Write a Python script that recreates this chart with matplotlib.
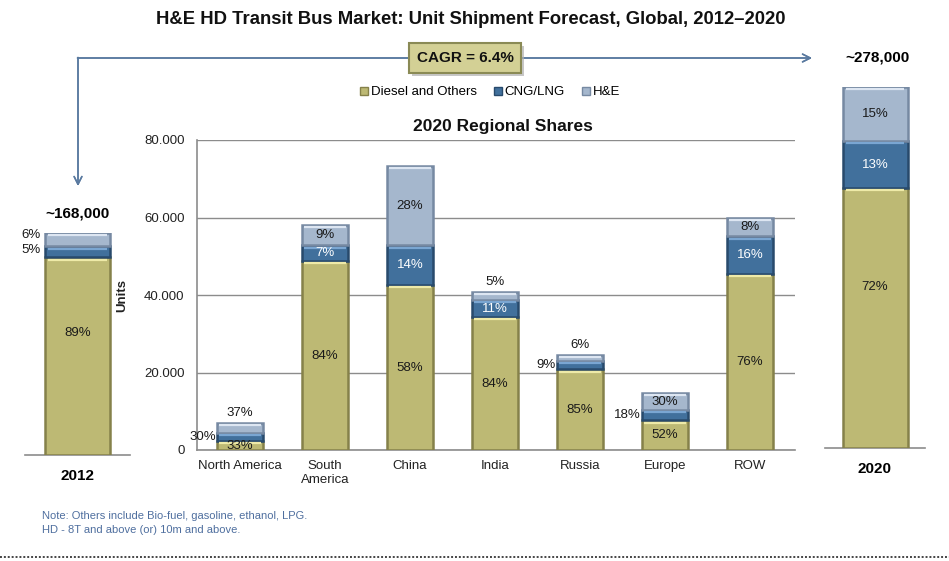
import numpy as np
import matplotlib
matplotlib.use("Agg")
import matplotlib.pyplot as plt
from matplotlib.patches import Rectangle
from matplotlib.lines import Line2D
from matplotlib.ticker import FuncFormatter, FixedLocator
import matplotlib.transforms as mtransforms

plt.rcParams['font.family'] = ['Liberation Sans', 'DejaVu Sans']

# ---------------- data ----------------
regions = ["North America", "South\nAmerica", "China", "India", "Russia", "Europe", "ROW"]
region_totals = [7000, 58000, 73300, 40800, 24500, 14700, 59900]
region_diesel_pct = [33, 84, 58, 84, 85, 52, 76]
region_cng_pct = [30, 7, 14, 11, 9, 18, 16]
region_he_pct = [37, 9, 28, 5, 6, 30, 8]

years = ["2012", "2020"]
year_totals = [168000, 278000]
year_total_labels = ["~168,000", "~278,000"]
year_diesel_pct = [89, 72]
year_cng_pct = [5, 13]
year_he_pct = [6, 15]

series_names = ["Diesel and Others", "CNG/LNG", "H&E"]
yticks = [0, 20000, 40000, 60000, 80000]
cagr_text = "CAGR = 6.4%"
title = "H&E HD Transit Bus Market: Unit Shipment Forecast, Global, 2012\u20132020"
subtitle = "2020 Regional Shares"
notes = ["Note: Others include Bio-fuel, gasoline, ethanol, LPG.",
         "HD - 8T and above (or) 10m and above."]

# label placement for region segments: (diesel, cng, he)
placements = [("in", "left", "above"), ("in", "in", "in"), ("in", "in", "in"),
              ("in", "in", "above"), ("in", "left", "above"), ("in", "left", "in"),
              ("in", "in", "in")]

# ---------------- styles ----------------
face = ["#bdb974", "#41709c", "#a5b7cd"]
edge = ["#85814a", "#284a6c", "#7689a2"]
hilite = ["#eeeaa8", "#7aa6d2", "#dde6f2"]
txtcol = ["#1a1a1a", "white", "#1a1a1a"]

W, H = 949, 561
fig = plt.figure(figsize=(W / 100, H / 100), dpi=100)
fig.patch.set_facecolor("white")


def fr(x0, y0, x1, y1):
    """pixel box (left, top, right, bottom) -> figure fraction rect"""
    return [x0 / W, 1 - y1 / H, (x1 - x0) / W, (y1 - y0) / H]


def fp(x, y):
    return (x / W, 1 - y / H)


def draw_stack(ax, xs, totals, pcts_list, width):
    bottoms = np.zeros(len(xs))
    all_bars = []
    for k, pcts in enumerate(pcts_list):
        vals = np.array(totals) * np.array(pcts) / 100.0
        bars = ax.bar(xs, vals, width, bottom=bottoms, color=face[k],
                      edgecolor=edge[k], linewidth=1.8, zorder=3)
        off = mtransforms.offset_copy(ax.transData, fig=fig, y=-2.2, units='dots')
        for b in bars:
            x0 = b.get_x(); w = b.get_width(); top = b.get_y() + b.get_height()
            ax.plot([x0 + w * 0.05, x0 + w * 0.95], [top, top], color=hilite[k],
                    lw=1.6, transform=off, zorder=4, solid_capstyle='butt')
        all_bars.append((bars, vals, bottoms.copy()))
        bottoms = bottoms + vals
    return all_bars


# ---------------- middle axes ----------------
ax = fig.add_axes(fr(197, 140, 795, 450))
xs = np.arange(len(regions))
bw = 0.54
stacks = draw_stack(ax, xs, region_totals,
                    [region_diesel_pct, region_cng_pct, region_he_pct], bw)
ax.set_ylim(0, 80000)
ax.set_xlim(-0.506, 6.53)
ax.yaxis.set_major_locator(FixedLocator(yticks))
ax.yaxis.set_major_formatter(FuncFormatter(lambda v, p: f"{v:,.0f}".replace(",", ".")))
ax.grid(axis='y', color="#8c8c8c", lw=1.0, zorder=0)
ax.set_axisbelow(True)
for s in ["top", "right"]:
    ax.spines[s].set_visible(False)
for s in ["left", "bottom"]:
    ax.spines[s].set_color("#8c8c8c")
    ax.spines[s].set_linewidth(1.2)
ax.tick_params(axis='both', length=0, labelsize=9.5, labelcolor="#222222")
ax.tick_params(axis='y', pad=9)
ax.tick_params(axis='x', pad=7)
ax.set_xticks(xs)
ax.set_xticklabels(regions, fontsize=9.5, linespacing=1.3)

pcts_all = [region_diesel_pct, region_cng_pct, region_he_pct]
for k, (bars, vals, bots) in enumerate(stacks):
    for i, b in enumerate(bars):
        mode = placements[i][k]
        lab = f"{pcts_all[k][i]}%"
        x = b.get_x() + b.get_width() / 2
        if mode == "in":
            ax.text(x, bots[i] + vals[i] / 2, lab, ha='center', va='center',
                    fontsize=9.5, color=txtcol[k], zorder=6)
        elif mode == "above":
            ax.annotate(lab, (x, bots[i] + vals[i]), xytext=(0, 3),
                        textcoords='offset points', ha='center', va='bottom',
                        fontsize=9.5, color="#1a1a1a", zorder=6)
        else:
            ax.annotate(lab, (b.get_x(), bots[i] + vals[i] / 2), xytext=(-1, 0),
                        textcoords='offset points', ha='right', va='center',
                        fontsize=9.5, color="#1a1a1a", zorder=6)

fig.text(122 / W, 1 - 295 / H, "Units", rotation=90, ha='center', va='center',
         fontsize=9.5, fontweight='bold', color="#222222")

# ---------------- side axes (2012, 2020) ----------------
side_boxes = [(25, 233, 130, 455), (825, 87, 925, 448)]
for j in range(2):
    x0, y0, x1, y1 = side_boxes[j]
    sax = fig.add_axes(fr(x0, y0, x1, y1))
    pl = [[year_diesel_pct[j]], [year_cng_pct[j]], [year_he_pct[j]]]
    bars = draw_stack(sax, [0], [year_totals[j]], pl, 65 / (x1 - x0))
    sax.set_xlim(-0.5, 0.5)
    sax.set_ylim(0, year_totals[j])
    for s in ["top", "right", "left"]:
        sax.spines[s].set_visible(False)
    sax.spines["bottom"].set_color("#8c8c8c")
    sax.spines["bottom"].set_linewidth(1.2)
    sax.set_yticks([])
    sax.set_xticks([0])
    sax.set_xticklabels([years[j]], fontsize=11, fontweight='bold')
    sax.tick_params(axis='x', length=0, pad=10)
    for k, (bs, vals, bots) in enumerate(bars):
        b = bs[0]
        lab = f"{pl[k][0]}%"
        if j == 0 and k > 0:
            sax.annotate(lab, (b.get_x(), bots[0] + vals[0] / 2), xytext=(-3, 1.5 * k),
                         textcoords='offset points', ha='right', va='center',
                         fontsize=9.5, color="#1a1a1a")
        else:
            frac = 0.62 if k == 0 else 0.5
            sax.text(0, bots[0] + vals[0] * frac, lab, ha='center', va='center',
                     fontsize=9.5, color=txtcol[k])
    if j == 0:
        sax.annotate(year_total_labels[j], (0, year_totals[j]), xytext=(0, 9),
                     textcoords='offset points', ha='center', va='bottom',
                     fontsize=11, fontweight='bold')

fig.text(*fp(877, 57), year_total_labels[1], ha='center', va='center',
         fontsize=11, fontweight='bold')

# ---------------- title, legend, subtitle ----------------
fig.text(*fp(471, 20), title, ha='center', va='center', fontsize=13.3,
         fontweight='bold', color="#111111")
fig.text(*fp(503, 127), subtitle, ha='center', va='center', fontsize=12.5,
         fontweight='bold', color="#111111")

handles = [Line2D([], [], ls='none', marker='s', markersize=5.5,
                  markerfacecolor=face[k], markeredgecolor=edge[k], markeredgewidth=1)
           for k in range(3)]
fig.legend(handles, series_names, loc='center', bbox_to_anchor=fp(490, 92),
           ncol=3, frameon=False, fontsize=9.5, handlelength=0.6,
           handletextpad=0.2, columnspacing=1.3, borderpad=0)

# ---------------- CAGR arrows & box ----------------
acol = "#5a7aa0"
fig.add_artist(plt.annotate("", xy=fp(78, 186), xytext=fp(78, 57.5),
                            xycoords='figure fraction', textcoords='figure fraction',
                            arrowprops=dict(arrowstyle='->', color=acol, lw=1.1,
                                            mutation_scale=14, shrinkA=0, shrinkB=0)))
fig.add_artist(plt.annotate("", xy=fp(812, 58), xytext=fp(77.5, 58),
                            xycoords='figure fraction', textcoords='figure fraction',
                            arrowprops=dict(arrowstyle='->', color=acol, lw=1.1,
                                            mutation_scale=14, shrinkA=0, shrinkB=0)))
sh = Rectangle(fp(412, 76), 112 / W, 30 / H, transform=fig.transFigure,
               facecolor="#b0b0b0", edgecolor='none', zorder=5, alpha=0.7)
fig.add_artist(sh)
bx = Rectangle(fp(409, 73), 112 / W, 30 / H, transform=fig.transFigure,
               facecolor="#d3d095", edgecolor="#8a8a55", lw=1.5, zorder=6)
fig.add_artist(bx)
fig.text(*fp(465, 58), cagr_text, ha='center', va='center', fontsize=11,
         fontweight='bold', color="#111111", zorder=7)

# ---------------- notes & bottom rule ----------------
ncol = "#4f6f9f"
fig.text(42 / W, 1 - 516 / H, notes[0], ha='left', va='center', fontsize=8, color=ncol)
fig.text(42 / W, 1 - 530 / H, notes[1], ha='left', va='center', fontsize=8, color=ncol)
fig.add_artist(Line2D([0, 1], [1 - 557 / H, 1 - 557 / H], color="#444444",
                      lw=1.4, ls=(0, (1, 1))))

fig.savefig("out.png", dpi=100)
